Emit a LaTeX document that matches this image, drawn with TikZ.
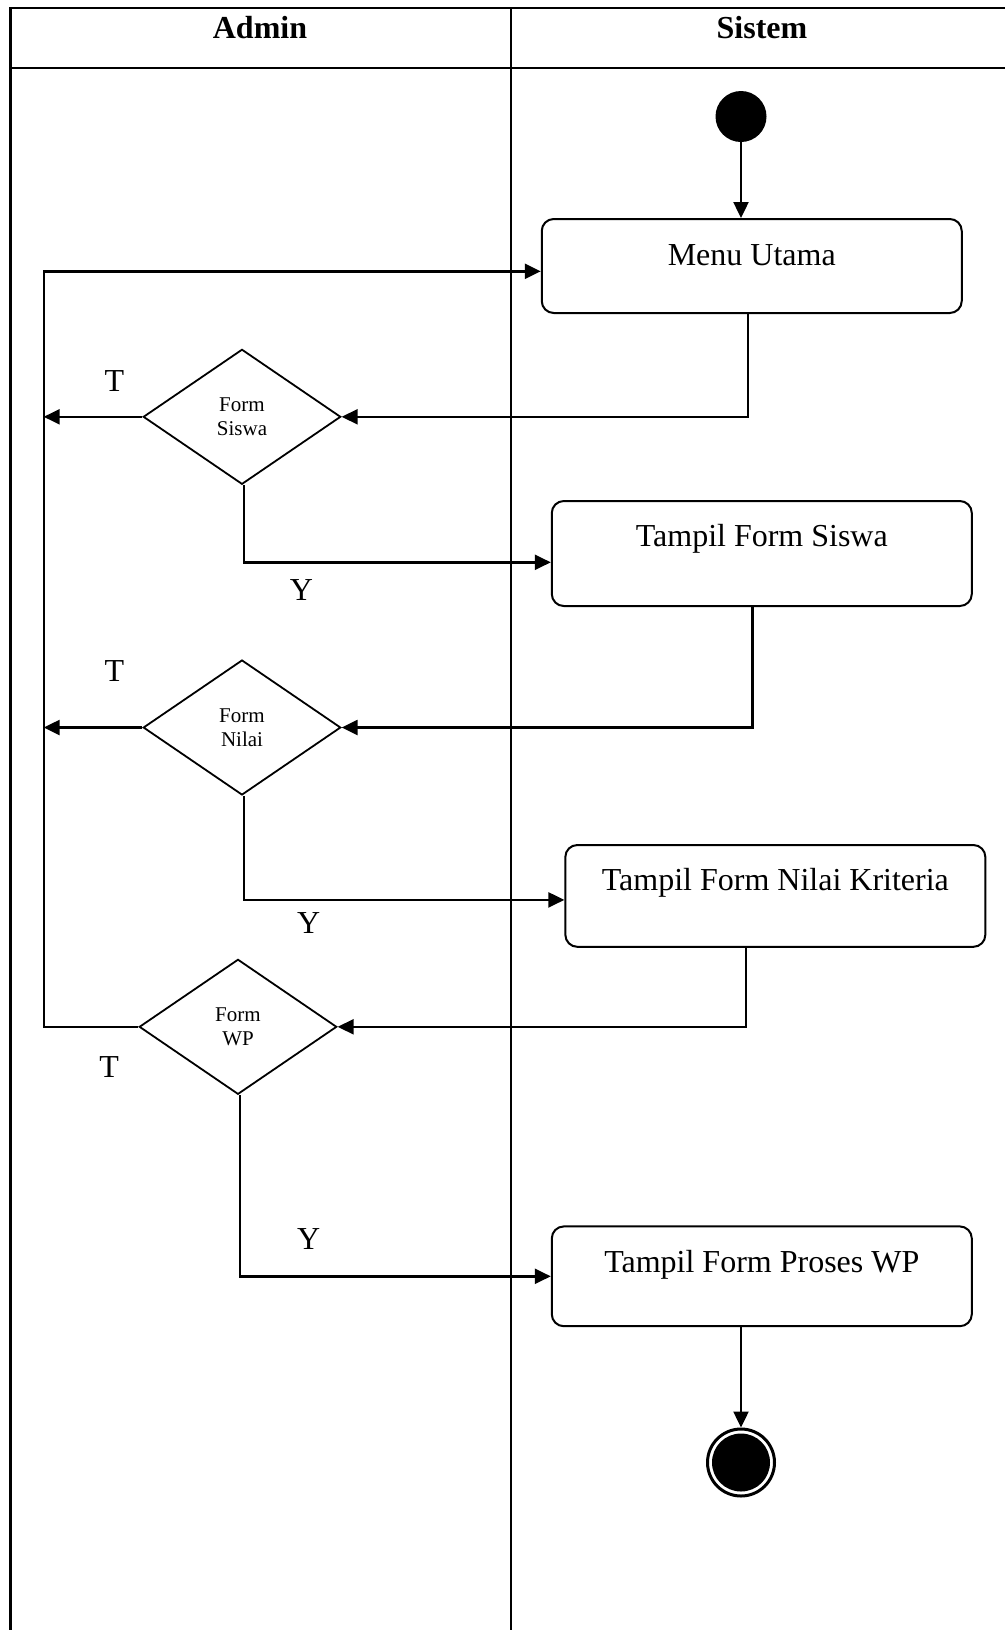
\documentclass[tikz,border=0pt]{standalone}
\usepackage{fontspec}
\setmainfont{Liberation Serif}
\usetikzlibrary{shapes.geometric,arrows.meta,calc}
\begin{document}
\begin{tikzpicture}[x=0.5pt,y=-0.5pt,
  conn/.style={line width=1.2pt},
  arr/.style={conn,-{Triangle[length=8pt,width=7.5pt]}},
  lane/.style={line width=1.1pt},
  actbox/.style={draw,line width=1pt,rounded corners=6pt,minimum width=210pt,inner sep=0pt,font=\fontsize{16}{19}\selectfont,text height=11pt},
  decision/.style={draw,diamond,line width=0.9pt,minimum width=98.75pt,minimum height=67.5pt,inner sep=0pt,align=center,font=\fontsize{10.5}{12}\selectfont,text depth=-1.5pt},
  guard/.style={font=\fontsize{16}{19}\selectfont,inner sep=0pt},
  head/.style={font=\fontsize{16}{19}\selectfont\bfseries,inner sep=0pt}]
\useasboundingbox (0,0) rectangle (1005,1630);
% swimlane frame
\draw[lane] (10.4,1630) -- (10.4,8.3) -- (1005,8.3);
\draw[lane] (10.4,67.6) -- (1005,67.6);
\draw[lane] (511,8.3) -- (511,1630);
\node[head] (hadmin) at (260,28) {Admin};
\node[head] (hsistem) at (762,28) {Sistem};
% nodes
\node[circle,fill,minimum size=25.5pt,inner sep=0pt] (start) at (741,116.5) {};
\node[actbox,minimum height=47pt,text depth=11.8pt] (mu) at (751.75,266) {Menu Utama};
\node[decision] (d1) at (242,416.8) {Form\\Siswa};
\node[actbox,minimum height=52.5pt,text depth=17.6pt] (b2) at (761.8,553.5) {Tampil Form Siswa};
\node[decision] (d2) at (242,727.5) {Form\\Nilai};
\node[actbox,minimum height=50.9pt,text depth=16pt] (b3) at (775.35,895.9) {Tampil Form Nilai Kriteria};
\node[decision] (d3) at (238,1026.8) {Form\\WP};
\node[actbox,minimum height=49.9pt,text depth=15pt] (b4) at (761.8,1276.3) {Tampil Form Proses WP};
\node[circle,draw,line width=1.5pt,minimum size=33.5pt,inner sep=0pt] (end) at (741,1462.5) {};
\fill (end.center) circle (14.5pt);
% guard labels
\node[guard] (t1) at (114.3,381.4) {T};
\node[guard] (t2) at (114.3,671.4) {T};
\node[guard] (t3) at (109.1,1067.4) {T};
\node[guard] (y1) at (301.4,590.3) {Y};
\node[guard] (y2) at (308.7,922.9) {Y};
\node[guard] (y3) at (308.7,1238.8) {Y};
% connectors
\coordinate (lt) at (43.7,271.3);
\draw[arr] (start) -- (start |- mu.north);
\draw[arr] ([xshift=-1.9pt]mu.south) |- (d1.east);
\draw[arr] (d1.west) -- (d1.west -| lt);
\draw[arr] ([xshift=1pt]d1.south) |- ([yshift=-4.4pt]b2.west);
\draw[arr] ([xshift=-4.7pt]b2.south) |- (d2.east);
\draw[arr] (d2.west) -- (d2.west -| lt);
\draw[arr] ([xshift=1pt]d2.south) |- ([yshift=-2pt]b3.west);
\draw[arr] ([xshift=-14.6pt]b3.south) |- (d3.east);
\draw[arr] (d3.west) -- (d3.west -| lt) -- (lt) -- (lt -| mu.west);
\draw[arr] ([xshift=1pt]d3.south) |- (b4.west);
\draw[arr] (end.north |- b4.south) -- (end.north);
\end{tikzpicture}
\end{document}
